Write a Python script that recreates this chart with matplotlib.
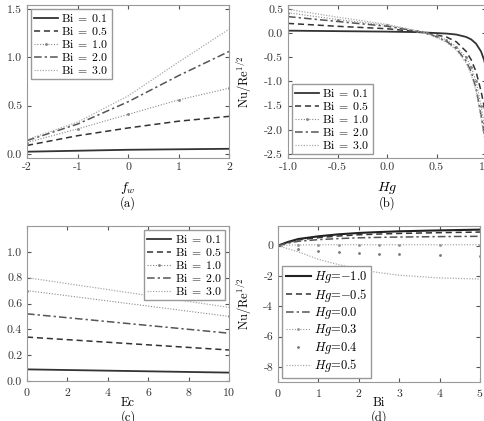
import numpy as np
import matplotlib
matplotlib.use("Agg")
import matplotlib.pyplot as plt

plt.rcParams.update({
    "font.family": "serif",
    "font.serif": ["cmr10", "DejaVu Serif"],
    "mathtext.fontset": "cm",
    "axes.unicode_minus": False,
    "axes.formatter.use_mathtext": True,
    "xtick.direction": "in",
    "ytick.direction": "in",
    "xtick.top": True,
    "ytick.right": True,
    "xtick.labelsize": 8.5,
    "ytick.labelsize": 8.5,
    "axes.edgecolor": "#999999",
    "axes.linewidth": 0.8,
    "xtick.color": "#555555",
    "ytick.color": "#555555",
    "xtick.labelcolor": "#333333",
    "ytick.labelcolor": "#333333",
    "xtick.major.size": 3,
    "ytick.major.size": 3,
})

# ---------------- data ----------------
bi_labels = [r"$\mathrm{Bi}\;=\;0.1$", r"$\mathrm{Bi}\;=\;0.5$", r"$\mathrm{Bi}\;=\;1.0$",
             r"$\mathrm{Bi}\;=\;2.0$", r"$\mathrm{Bi}\;=\;3.0$"]

# (a) Nu vs f_w
fw = [-2, -1, 0, 1, 2]
fw_ticks = ["-2", "-1", "0", "1", "2"]
a_bi01 = [0.025, 0.035, 0.045, 0.050, 0.055]
a_bi05 = [0.09, 0.19, 0.27, 0.34, 0.39]
a_bi10 = [0.12, 0.26, 0.41, 0.56, 0.68]
a_bi20 = [0.14, 0.31, 0.54, 0.81, 1.06]
a_bi30 = [0.15, 0.33, 0.60, 0.95, 1.29]

# (b) Nu vs Hg
hg = [-1.0, -0.5, 0.0, 0.3, 0.4, 0.5, 0.6, 0.7, 0.8, 0.85, 0.9, 0.95, 0.98, 1.0]
b_bi01 = [0.05, 0.04, 0.03, 0.02, 0.01, 0.00, -0.01, -0.03, -0.08, -0.13, -0.22, -0.38, -0.55, -0.72]
b_bi05 = [0.20, 0.14, 0.09, 0.03, 0.00, -0.04, -0.08, -0.18, -0.38, -0.55, -0.80, -1.20, -1.50, -1.80]
b_bi10 = [0.42, 0.28, 0.16, 0.04, 0.00, -0.06, -0.14, -0.28, -0.50, -0.70, -1.00, -1.50, -1.85, -2.10]
b_bi20 = [0.34, 0.24, 0.14, 0.04, 0.00, -0.08, -0.17, -0.32, -0.58, -0.80, -1.15, -1.70, -2.05, -2.30]
b_bi30 = [0.49, 0.33, 0.18, 0.05, 0.00, -0.09, -0.19, -0.35, -0.62, -0.85, -1.20, -1.75, -2.10, -2.35]

# (c) Nu vs Ec
ec = [0, 10]
c_bi01 = [0.09, 0.065]
c_bi05 = [0.34, 0.24]
c_bi10 = [0.70, 0.50]
c_bi20 = [0.52, 0.37]
c_bi30 = [0.80, 0.57]

# (d) Nu vs Bi
hg_labels = [r"$Hg$=$-$1.0", r"$Hg$=$-$0.5", r"$Hg$=0.0", r"$Hg$=0.3", r"$Hg$=0.4", r"$Hg$=0.5"]
bi = [0, 0.25, 0.5, 1, 1.5, 2, 2.5, 3, 4, 5]
d_hgm10 = [0.0, 0.25, 0.44, 0.62, 0.75, 0.84, 0.90, 0.95, 1.01, 1.06]
d_hgm05 = [0.0, 0.22, 0.38, 0.53, 0.64, 0.72, 0.77, 0.81, 0.86, 0.90]
d_hg00 = [0.0, 0.17, 0.29, 0.40, 0.47, 0.52, 0.55, 0.57, 0.60, 0.62]
d_hg03 = [0.0, 0.04, 0.05, 0.06, 0.06, 0.06, 0.06, 0.06, 0.06, 0.06]
d_hg04 = [0.0, -0.10, -0.20, -0.33, -0.42, -0.49, -0.53, -0.56, -0.62, -0.68]
d_hg05 = [0.0, -0.20, -0.40, -0.90, -1.25, -1.55, -1.78, -1.95, -2.13, -2.20]

# ---------------- styles ----------------
styles = [
    dict(color="#333333", ls="-", lw=1.3),
    dict(color="#333333", ls=(0, (4, 2.5)), lw=1.1),
    dict(color="#888888", ls=(0, (1, 1.5)), lw=0.8, marker=".", ms=2.2),
    dict(color="#555555", ls=(0, (5, 2, 1.5, 2)), lw=1.1),
    dict(color="#aaaaaa", ls=(0, (1, 1.2)), lw=0.9),
]

fig = plt.figure(figsize=(4.84, 4.21), dpi=100)
W, H = 484, 421


def add_ax(l, r, t, b):
    return fig.add_axes([l / W, 1 - b / H, (r - l) / W, (b - t) / H])


ax_a = add_ax(27, 229, 5, 158)
ax_b = add_ax(288, 486, 5, 158)
ax_c = add_ax(27, 229, 226, 381)
ax_d = add_ax(278, 480, 226, 382)

leg_kw = dict(fontsize=8.5, frameon=True, fancybox=False, edgecolor="#999999",
              handlelength=2.0, handletextpad=0.3, borderpad=0.25,
              labelspacing=0.08, borderaxespad=0.35, framealpha=1)


def place_labels(ax, bottom_px, xlab_y, cap_y, cap, ylab_x=None):
    h = ax.get_position().height * H
    ax.xaxis.set_label_coords(0.5, -(xlab_y - bottom_px) / h)
    ax.xaxis.label.set_va("center")
    ax.text(0.5, -(cap_y - bottom_px) / h, cap, transform=ax.transAxes,
            ha="center", va="center", fontsize=9)
    if ylab_x is not None:
        ax.yaxis.set_label_coords(ylab_x, 0.5)


def draw(ax, x, ys, labels, stys):
    for y, lab, st in zip(ys, labels, stys):
        ax.plot(x, y, label=lab, **st)


# (a)
draw(ax_a, fw, [a_bi01, a_bi05, a_bi10, a_bi20, a_bi30], bi_labels, styles)
ax_a.set_xlim(-2, 2)
ax_a.set_ylim(-0.04, 1.54)
ax_a.set_xticks(fw)
ax_a.set_xticklabels(fw_ticks)
ax_a.set_yticks([0.0, 0.5, 1.0, 1.5])
ax_a.set_yticklabels(["0.0", "0.5", "1.0", "1.5"])
ax_a.set_xlabel(r"$f_w$", fontsize=10)
ax_a.set_ylabel(r"Nu/Re$^{1/2}$", fontsize=9)
place_labels(ax_a, 158, 188, 203, "(a)", ylab_x=-0.155)
ax_a.legend(loc="upper left", **leg_kw)

# (b)
draw(ax_b, hg, [b_bi01, b_bi05, b_bi10, b_bi20, b_bi30], bi_labels, styles)
ax_b.set_xlim(-1.0, 1.0)
ax_b.set_ylim(-2.58, 0.58)
ax_b.set_xticks([-1.0, -0.5, 0.0, 0.5, 1.0])
ax_b.set_xticklabels(["-1.0", "-0.5", "0.0", "0.5", "1.0"])
ax_b.set_yticks([-2.5, -2.0, -1.5, -1.0, -0.5, 0.0, 0.5])
ax_b.set_yticklabels(["-2.5", "-2.0", "-1.5", "-1.0", "-0.5", "0.0", "0.5"])
ax_b.set_xlabel(r"$Hg$", fontsize=10)
ax_b.set_ylabel(r"Nu/Re$^{1/2}$", fontsize=9)
place_labels(ax_b, 158, 188, 203, "(b)", ylab_x=-0.17)
ax_b.legend(loc="lower left", **leg_kw)

# (c)
draw(ax_c, ec, [c_bi01, c_bi05, c_bi10, c_bi20, c_bi30], bi_labels, styles)
ax_c.set_xlim(0, 10)
ax_c.set_ylim(0, 1.2)
ax_c.set_xticks([0, 2, 4, 6, 8, 10])
ax_c.set_yticks([0.0, 0.2, 0.4, 0.6, 0.8, 1.0])
ax_c.set_yticklabels(["0.0", "0.2", "0.4", "0.6", "0.8", "1.0"])
ax_c.set_xlabel("Ec", fontsize=9)
ax_c.set_ylabel(r"Nu/Re$^{1/2}$", fontsize=9)
place_labels(ax_c, 381, 403, 417, "(c)", ylab_x=-0.155)
ax_c.legend(loc="upper right", **leg_kw)

# (d)
d_styles = [
    dict(color="#222222", ls="-", lw=1.5),
    dict(color="#333333", ls=(0, (4, 2.5)), lw=1.1),
    dict(color="#555555", ls=(0, (5, 2, 1.5, 2)), lw=1.1),
    dict(color="#999999", ls=(0, (1, 1.5)), lw=0.8, marker=".", ms=2.2, markevery=slice(2, None)),
    dict(color="#777777", ls="none", marker=".", ms=2.0, markevery=slice(2, None)),
    dict(color="#aaaaaa", ls=(0, (1, 1.2)), lw=0.9),
]
draw(ax_d, bi, [d_hgm10, d_hgm05, d_hg00, d_hg03, d_hg04, d_hg05], hg_labels, d_styles)
ax_d.set_xlim(0, 5)
ax_d.set_ylim(-9, 1.3)
ax_d.set_xticks([0, 1, 2, 3, 4, 5])
ax_d.set_yticks([-8, -6, -4, -2, 0])
ax_d.set_yticklabels(["-8", "-6", "-4", "-2", "0"])
ax_d.set_xlabel("Bi", fontsize=9)
ax_d.set_ylabel(r"Nu/Re$^{1/2}$", fontsize=9)
place_labels(ax_d, 382, 403, 417, "(d)", ylab_x=-0.12)
leg_d = dict(leg_kw)
leg_d["fontsize"] = 9
leg_d["labelspacing"] = 0.12
ax_d.legend(loc="lower left", **leg_d)

fig.savefig("out.png", dpi=100)
